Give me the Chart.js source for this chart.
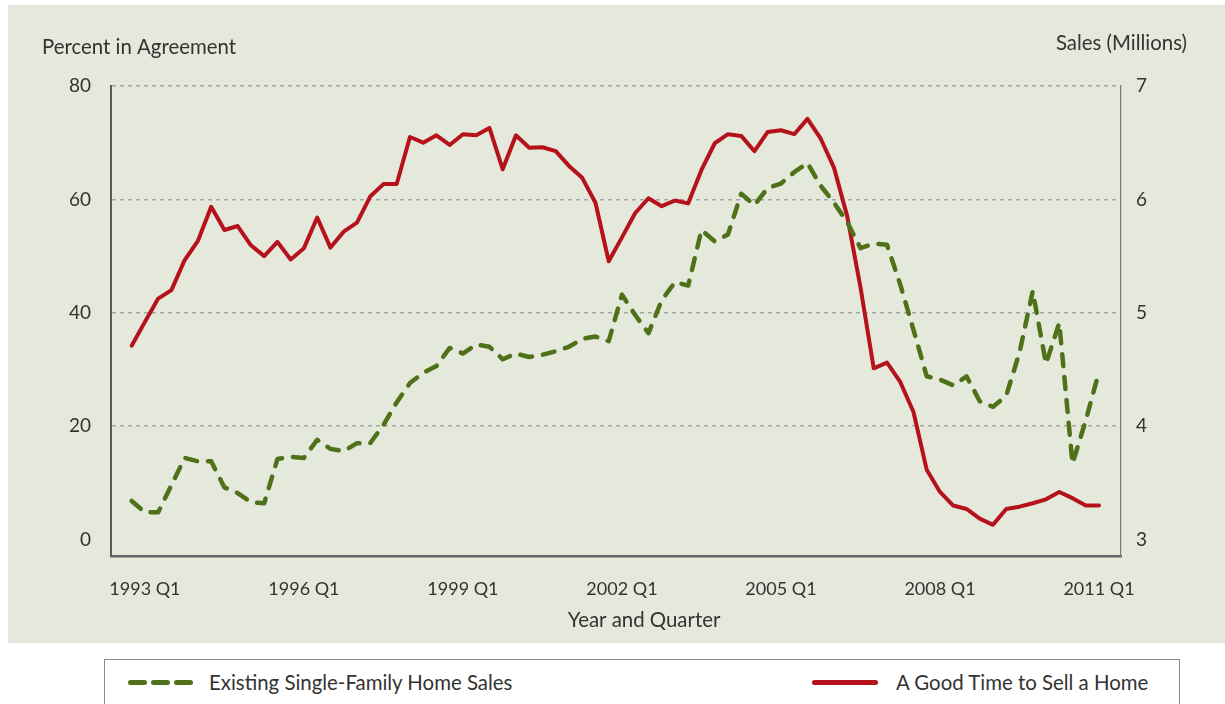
<!DOCTYPE html>
<html><head><meta charset="utf-8">
<script src="https://cdn.jsdelivr.net/npm/chart.js@4.4.0/dist/chart.umd.min.js"></script>
<style>
html,body{margin:0;padding:0;background:#fff;width:1225px;height:704px;overflow:hidden;font-family:Lato,sans-serif;}
#panel{position:absolute;left:8px;top:5px;width:1217px;height:638px;background:#e5e9dc;}
#wrap{position:absolute;left:0;top:0;width:1225px;height:643px;}
#legend{position:absolute;left:104px;top:659px;width:1074px;height:60px;border:1.5px solid #8c8c8c;background:#fff;color:#333;font:20.4px Lato,sans-serif;}
.gd{position:absolute;top:20px;width:19px;height:5px;border-radius:3px;background:#4e7119;}
.rd{position:absolute;top:20px;width:66px;height:5px;border-radius:3px;background:#b5121b;}
.lt{position:absolute;top:10px;line-height:24px;white-space:nowrap;}
</style></head>
<body>
<div id="panel"></div>
<div id="wrap"><canvas id="c" width="1225" height="643"></canvas></div>
<div id="legend">
  <div class="gd" style="left:23px"></div><div class="gd" style="left:46px"></div><div class="gd" style="left:69px"></div>
  <div class="lt" style="left:104px" id="l1"></div>
  <div class="rd" style="left:707px"></div>
  <div class="lt" style="left:791px" id="l2"></div>
</div>
<script>
const quarters = ['1992 Q4',
 '1993 Q1','1993 Q2','1993 Q3','1993 Q4','1994 Q1','1994 Q2','1994 Q3','1994 Q4',
 '1995 Q1','1995 Q2','1995 Q3','1995 Q4','1996 Q1','1996 Q2','1996 Q3','1996 Q4',
 '1997 Q1','1997 Q2','1997 Q3','1997 Q4','1998 Q1','1998 Q2','1998 Q3','1998 Q4',
 '1999 Q1','1999 Q2','1999 Q3','1999 Q4','2000 Q1','2000 Q2','2000 Q3','2000 Q4',
 '2001 Q1','2001 Q2','2001 Q3','2001 Q4','2002 Q1','2002 Q2','2002 Q3','2002 Q4',
 '2003 Q1','2003 Q2','2003 Q3','2003 Q4','2004 Q1','2004 Q2','2004 Q3','2004 Q4',
 '2005 Q1','2005 Q2','2005 Q3','2005 Q4','2006 Q1','2006 Q2','2006 Q3','2006 Q4',
 '2007 Q1','2007 Q2','2007 Q3','2007 Q4','2008 Q1','2008 Q2','2008 Q3','2008 Q4',
 '2009 Q1','2009 Q2','2009 Q3','2009 Q4','2010 Q1','2010 Q2','2010 Q3','2010 Q4',
 '2011 Q1'];
const xTickLabels = ['1993 Q1','1996 Q1','1999 Q1','2002 Q1','2005 Q1','2008 Q1','2011 Q1'];
const seriesNames = ['Existing Single-Family Home Sales','A Good Time to Sell a Home'];
// Existing single-family home sales (millions, right axis)
const homeSales = [3.34,3.24,3.24,3.48,3.72,3.69,3.69,3.46,3.41,3.33,3.32,3.71,3.73,3.72,3.88,3.80,3.78,3.85,3.85,4.01,
 4.21,4.38,4.47,4.53,4.69,4.64,4.72,4.70,4.59,4.64,4.61,4.63,4.66,4.70,4.77,4.79,4.75,5.16,4.98,4.82,
 5.11,5.27,5.24,5.73,5.63,5.69,6.05,5.95,6.10,6.14,6.24,6.32,6.12,5.97,5.80,5.57,5.61,5.60,5.25,4.85,
 4.44,4.41,4.36,4.44,4.22,4.17,4.27,4.65,5.19,4.55,4.91,3.67,4.05,4.48];
// Percent saying it is a good time to sell a home (left axis)
const goodTimeToSell = [34.2,38.4,42.5,44.0,49.3,52.7,58.7,54.6,55.3,51.9,50.0,52.5,49.4,51.4,56.8,51.5,54.3,55.9,60.5,62.7,
 62.7,71.0,70.0,71.3,69.6,71.5,71.3,72.6,65.3,71.3,69.1,69.2,68.5,65.9,63.8,59.4,49.1,53.3,57.6,60.2,
 58.8,59.8,59.3,65.2,69.9,71.5,71.2,68.5,71.9,72.2,71.5,74.2,70.7,65.6,57.0,44.5,30.2,31.2,27.8,22.5,
 12.3,8.4,6.0,5.4,3.7,2.6,5.4,5.8,6.4,7.1,8.4,7.3,6.0,6.0];
const leftTicks = [0,20,40,60,80];
const rightTicks = [3,4,5,6,7];
const leftTitle = 'Percent in Agreement';
const rightTitle = 'Sales (Millions)';
const xTitle = 'Year and Quarter';

document.getElementById('l1').textContent = seriesNames[0];
document.getElementById('l2').textContent = seriesNames[1];

const FONT = 'Lato, sans-serif';
const TXT = '#333333';

const textPlugin = {
  id: 'texts',
  afterDraw(chart) {
    const ctx = chart.ctx;
    ctx.save();
    ctx.fillStyle = TXT;
    ctx.font = '20.4px ' + FONT;
    ctx.textBaseline = 'middle';
    ctx.textAlign = 'left';
    ctx.fillText(leftTitle, 42, 47);
    ctx.textAlign = 'right';
    ctx.fillText(rightTitle, 1187, 43);
    ctx.textAlign = 'center';
    ctx.fillText(xTitle, 644, 620);
    ctx.restore();
  }
};

new Chart(document.getElementById('c'), {
  type: 'line',
  data: {
    datasets: [
      { label: seriesNames[0], yAxisID: 'y1',
        data: homeSales.map((v, i) => ({x: i, y: v})),
        borderColor: '#4e7119', borderWidth: 4.5, borderDash: [12, 11], borderCapStyle: 'round',
        borderJoinStyle: 'round', pointRadius: 0, tension: 0, fill: false },
      { label: seriesNames[1], yAxisID: 'y',
        data: goodTimeToSell.map((v, i) => ({x: i, y: v})),
        borderColor: '#b5121b', borderWidth: 4, borderJoinStyle: 'round', borderCapStyle: 'round',
        pointRadius: 0, tension: 0, fill: false }
    ]
  },
  options: {
    responsive: false, animation: false, events: [],
    layout: { padding: { top: 86, left: 0, right: 0, bottom: 0 } },
    plugins: { legend: { display: false }, tooltip: { enabled: false }, title: { display: false } },
    scales: {
      x: {
        type: 'linear', min: -1.56, max: 74.66,
        afterFit: s => { s.height = 87; },
        afterBuildTicks: s => { s.ticks = xTickLabels.map(l => ({ value: quarters.indexOf(l) })); },
        ticks: { autoSkip: false, maxRotation: 0, padding: 22, color: TXT, font: { family: FONT, size: 18 },
                 callback: v => quarters[v] },
        grid: { display: false, drawTicks: false },
        border: { display: true, color: '#666666', width: 2.5 }
      },
      y: {
        position: 'left', min: -2.9, max: 80,
        afterFit: s => { s.width = 111; },
        afterBuildTicks: s => { s.ticks = leftTicks.map(v => ({ value: v })); },
        ticks: { padding: 20, color: TXT, font: { family: FONT, size: 19 } },
        grid: { drawTicks: false, lineWidth: 1.5,
                color: c => (c.tick && c.tick.value === 0) ? 'rgba(0,0,0,0)' : '#a5a5a5' },
        border: { display: true, color: '#5a5a5a', width: 2, dash: [4, 4] }
      },
      y1: {
        position: 'right', min: 3 - 2.9 / 20, max: 7,
        afterFit: s => { s.width = 104; },
        afterBuildTicks: s => { s.ticks = rightTicks.map(v => ({ value: v })); },
        ticks: { padding: 15, color: TXT, font: { family: FONT, size: 19 } },
        grid: { display: false, drawTicks: false },
        border: { display: true, color: '#7a7a7a', width: 1.2 }
      }
    }
  },
  plugins: [textPlugin]
});
</script>
</body></html>
